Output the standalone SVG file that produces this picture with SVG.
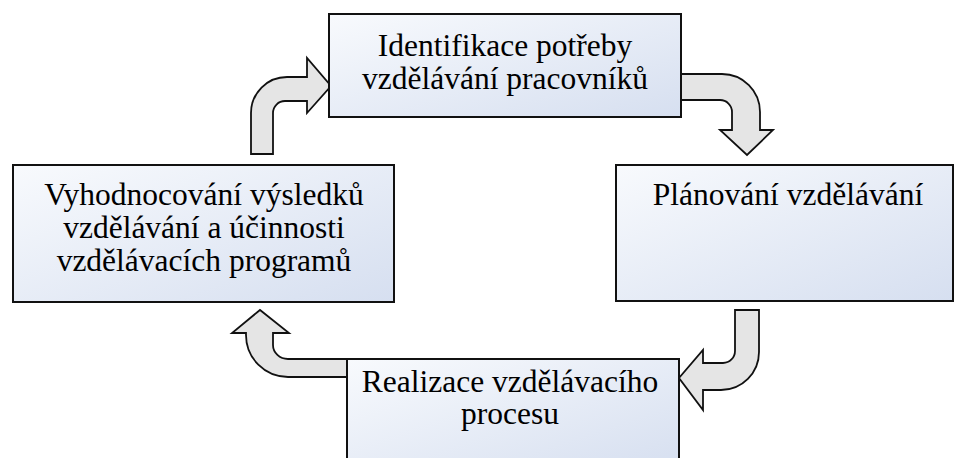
<svg xmlns="http://www.w3.org/2000/svg" width="955" height="458" viewBox="0 0 955 458">
<defs>
<linearGradient id="boxFill" x1="0" y1="0" x2="1" y2="1">
<stop offset="0" stop-color="#f8fafd"/>
<stop offset="1" stop-color="#d6dff0"/>
</linearGradient>
<style>
.box{fill:url(#boxFill);stroke:#111;stroke-width:2}
.arr{fill:#e5e5e5;stroke:#111;stroke-width:1.8;stroke-linejoin:miter}
.lbl{font-family:"Liberation Serif","Times New Roman",serif;font-size:31.5px;fill:#000;text-anchor:middle}
</style>
</defs>
<rect width="955" height="458" fill="#fff"/>
<g id="connectors">
<path class="arr" d="M251,154 L251,113 A36,36 0 0 1 287,77 L307,77 L307,58 L331,86 L307,113 L307,101 L285,101 A12,12 0 0 0 273,113 L273,154 Z"/>
<path class="arr" d="M679,74 L722,74 A38,38 0 0 1 760,112 L760,130 L773,130 L747,155 L720,130 L732,130 L732,112 A12,12 0 0 0 720,100 L679,100 Z"/>
<path class="arr" d="M735,310 L759,310 L759,352 A38,38 0 0 1 721,390 L703,390 L703,410 L679,378 L703,350 L703,363 L723,363 A12,12 0 0 0 735,351 Z"/>
<path class="arr" d="M349,359 L288,359 A15,14 0 0 1 273,345 L273,333 L289,333 L260,310 L232,333 L246,333 L246,335 A42,42 0 0 0 288,377 L349,377 Z"/>
</g>
<g id="node-identifikace">
<rect class="box" x="329" y="14" width="352" height="103"/>
<text class="lbl" x="505" y="56">Identifikace potřeby</text>
<text class="lbl" x="505" y="89">vzdělávání pracovníků</text>
</g>
<g id="node-planovani">
<rect class="box" x="616" y="165" width="337" height="136"/>
<text class="lbl" x="788" y="205">Plánování vzdělávání</text>
</g>
<g id="node-realizace">
<rect class="box" x="347" y="359" width="332" height="110"/>
<text class="lbl" x="510" y="392">Realizace vzdělávacího</text>
<text class="lbl" x="510" y="424">procesu</text>
</g>
<g id="node-vyhodnocovani">
<rect class="box" x="13" y="165" width="381" height="137"/>
<text class="lbl" x="204" y="205">Vyhodnocování výsledků</text>
<text class="lbl" x="204" y="238">vzdělávání a účinnosti</text>
<text class="lbl" x="204" y="271">vzdělávacích programů</text>
</g>
</svg>
